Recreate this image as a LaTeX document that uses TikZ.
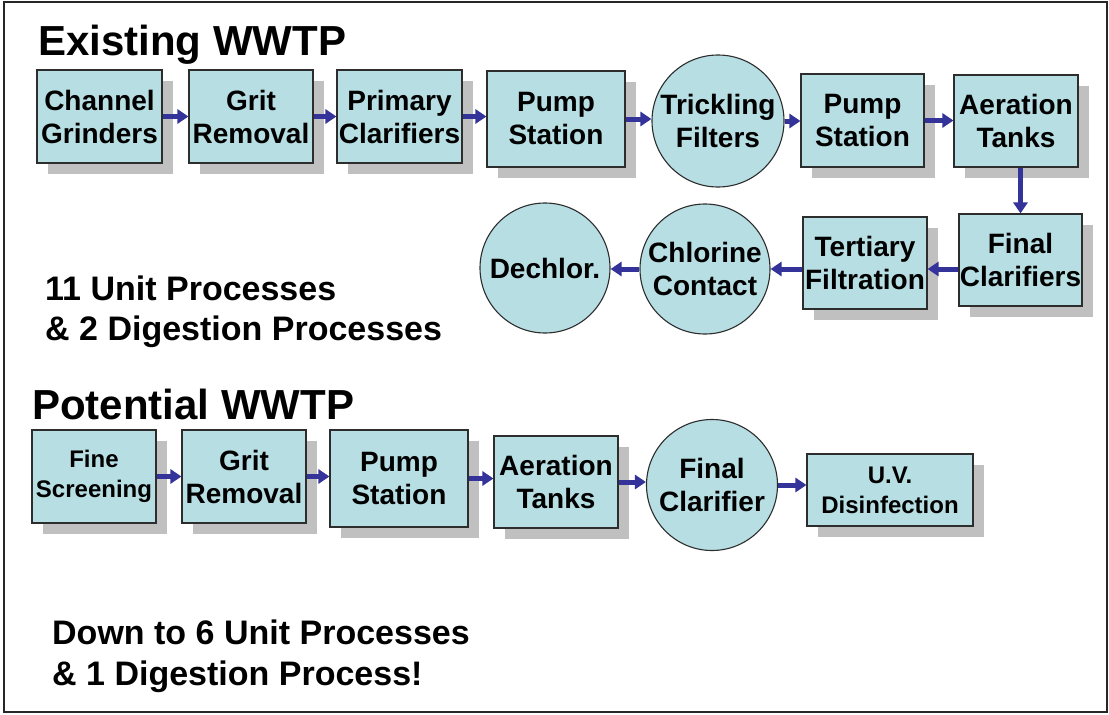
\documentclass[tikz,border=0pt]{standalone}
\usepackage{fontspec}
\setmainfont{Liberation Sans}
\usetikzlibrary{arrows.meta,calc}

\definecolor{boxfill}{RGB}{182,222,227}
\definecolor{boxline}{RGB}{45,45,45}
\definecolor{flowblue}{RGB}{51,51,153}
\definecolor{shadowgray}{RGB}{192,192,192}

\pgfdeclarelayer{paper}
\pgfdeclarelayer{shadows}
\pgfdeclarelayer{flows}
\pgfsetlayers{paper,shadows,flows,main}

\tikzset{
  unit/.style={draw=boxline, line width=1.1pt, fill=boxfill, inner sep=0pt, align=center},
  unitshadow/.style={fill=shadowgray, inner sep=0pt},
  tank/.style={circle, draw=boxline, line width=1.1pt, fill=boxfill, inner sep=0pt},
  tanklabel/.style={align=center, inner sep=0pt, font=\bfseries\fontsize{28}{33}\selectfont},
  flow/.style={draw=flowblue, line width=5pt, -{Triangle[width=14pt,length=11pt]}},
  heading/.style={anchor=base west, inner sep=0pt, font=\bfseries\fontsize{42}{50}\selectfont},
  remark/.style={anchor=base west, inner sep=0pt, font=\bfseries\fontsize{34}{40}\selectfont},
}

% name, centre x, centre y, width, height, font size, line skip, text
\newcommand\unitbox[8]{%
  \begin{pgfonlayer}{shadows}
    \node[unitshadow, minimum width=#4pt, minimum height=#5pt] (#1-shadow) at (#2+11,#3+11) {};
  \end{pgfonlayer}
  \node[unit, minimum width=#4pt, minimum height=#5pt,
        font=\bfseries\fontsize{#6}{#7}\selectfont] (#1) at (#2,#3) {#8};
}
% name, centre x, centre y, diameter, text
\newcommand\tankunit[5]{%
  \node[tank, minimum size=#4pt] (#1) at (#2,#3) {};
  \node[tanklabel] (#1-text) at (#1.center) {#5};
}

\begin{document}
\begin{tikzpicture}[x=1pt, y=-1pt]
\useasboundingbox (0,0) rectangle (1109,715);
\begin{pgfonlayer}{paper}
  \fill[white] (0,0) rectangle (1109,715);
\end{pgfonlayer}
\draw[line width=1.5pt, draw=black!85] (4,2) rectangle (1107,712);

% existing plant
\node[heading] (existing) at (38,55) {Existing WWTP};

\unitbox{cg}{99.5}{116.5}{125}{93}{28}{33}{Channel\\Grinders}
\unitbox{gr}{251}{116.5}{124}{93}{28}{33}{Grit\\Removal}
\unitbox{pc}{399.5}{116.5}{125}{93}{28}{33}{Primary\\Clarifiers}
\unitbox{ps}{556}{119}{138}{96}{28}{33}{Pump\\Station}
\tankunit{tf}{718}{121}{132}{Trickling\\Filters}
\unitbox{psb}{862.5}{120.5}{123}{93}{28}{33}{Pump\\Station}
\unitbox{at}{1016}{121}{124}{92}{28}{33}{Aeration\\Tanks}
\unitbox{fc}{1020.5}{260}{123}{92}{28}{33}{Final\\Clarifiers}
\unitbox{tfl}{865}{263}{124}{92}{28}{33}{Tertiary\\Filtration}
\tankunit{cc}{705}{269}{130}{Chlorine\\Contact}
\tankunit{dc}{545}{268}{130}{Dechlor.}

\node[remark] (count1) at (45,300) {11 Unit Processes};
\node[remark] (count2) at (45,340) {\& 2 Digestion Processes};

% proposed plant
\node[heading] (potential) at (32,419) {Potential WWTP};

\unitbox{fs}{94}{476.5}{124}{93}{24}{30}{Fine\\Screening}
\unitbox{grb}{244}{476.5}{124}{93}{28}{33}{Grit\\Removal}
\unitbox{psc}{399}{478.5}{138}{97}{28}{33}{Pump\\Station}
\unitbox{atb}{556}{482}{124}{92}{28}{33}{Aeration\\Tanks}
\tankunit{fcl}{712}{485}{131}{Final\\Clarifier}
\unitbox{uv}{890}{490}{166}{72}{24}{30}{U.V.\\Disinfection}

\node[remark] (count3) at (52,644) {Down to 6 Unit Processes};
\node[remark] (count4) at (52,685) {\& 1 Digestion Process!};

% flow arrows
\begin{pgfonlayer}{flows}
  \draw[flow] (cg.east) -- (cg.east -| gr.west);
  \draw[flow] (gr.east) -- (gr.east -| pc.west);
  \draw[flow] (pc.east) -- (pc.east -| ps.west);
  \draw[flow] (ps.east) -- (ps.east -| tf.west);
  \draw[flow] (tf.east) -- (tf.east -| psb.west);
  \draw[flow] (psb.east) -- (psb.east -| at.west);
  \draw[flow] (at.south -| fc.north) -- (fc.north);
  \draw[flow] (fc.west |- cc) -- (tfl.east |- cc);
  \draw[flow] (tfl.west |- cc) -- (cc.east);
  \draw[flow] (cc.west) -- (cc.west -| dc.east);

  \draw[flow] (fs.east) -- (fs.east -| grb.west);
  \draw[flow] (grb.east) -- (grb.east -| psc.west);
  \draw[flow] (psc.east) -- (psc.east -| atb.west);
  \draw[flow] (atb.east) -- (atb.east -| fcl.west);
  \draw[flow] (fcl.east) -- (fcl.east -| uv.west);
\end{pgfonlayer}
\end{tikzpicture}
\end{document}
